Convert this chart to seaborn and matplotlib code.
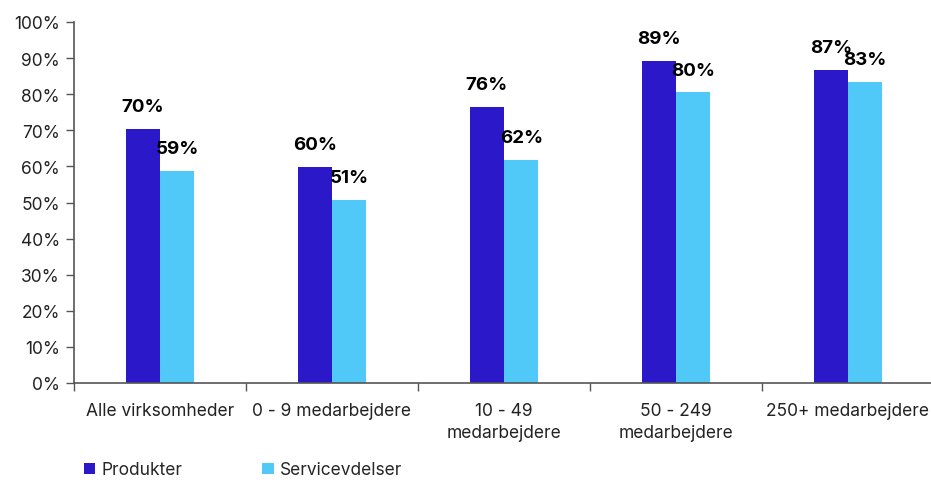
import matplotlib
matplotlib.use("Agg")
import matplotlib.pyplot as plt
from matplotlib.patches import Patch
from matplotlib.ticker import FixedLocator, FuncFormatter
import seaborn as sns
import pandas as pd

# Share of companies, by company size
categories = [
    "Alle virksomheder",
    "0 - 9 medarbejdere",
    "10 - 49\nmedarbejdere",
    "50 - 249\nmedarbejdere",
    "250+ medarbejdere",
]
produkter = [70.3, 59.9, 76.4, 89.2, 86.7]
servicevdelser = [58.7, 50.6, 61.8, 80.5, 83.4]
series_names = ["Produkter", "Servicevdelser"]
colors = ["#2A18C9", "#50C9F8"]

df = pd.DataFrame({
    "kategori": categories * 2,
    "serie": [series_names[0]] * len(categories) + [series_names[1]] * len(categories),
    "andel": produkter + servicevdelser,
})

sns.set_theme(style="white")
plt.rcParams["font.family"] = ["Inter", "DejaVu Sans"]

fig = plt.figure(figsize=(9.31, 4.81), dpi=100)
ax = fig.add_axes([74 / 931, 1 - 384 / 481, 860 / 931, 361 / 481])

sns.barplot(
    data=df, x="kategori", y="andel", hue="serie", order=categories,
    hue_order=series_names, palette=colors, width=0.4, linewidth=0,
    saturation=1, legend=False, ax=ax,
)

# value labels above each bar
for container in ax.containers:
    ax.bar_label(container, labels=[f"{v:.0f}%" for v in container.datavalues],
                 padding=10, fontsize=13.5, fontweight="bold", color="black")

ax.set_ylim(0, 100)
ax.set_xlim(-0.5, len(categories) - 0.5)
ax.set_yticks(range(0, 101, 10))
ax.yaxis.set_major_formatter(FuncFormatter(lambda v, _: f"{v:.0f}%"))
ax.tick_params(axis="y", which="major", length=6, width=1, color="#555555",
               labelsize=12.5, labelcolor="#222222", pad=4, left=True)

# category boundaries as ticks, names centred between them
ax.xaxis.set_major_locator(FixedLocator([i - 0.5 for i in range(len(categories) + 1)]))
ax.xaxis.set_major_formatter(FuncFormatter(lambda v, _: ""))
ax.xaxis.set_minor_locator(FixedLocator(list(range(len(categories)))))
ax.set_xticklabels(categories, minor=True)
ax.tick_params(axis="x", which="major", length=6, width=1, color="#555555", bottom=True)
ax.tick_params(axis="x", which="minor", length=0, labelsize=12.5, labelcolor="#222222", pad=14)
for lbl in ax.get_xticklabels(minor=True):
    lbl.set_linespacing(1.35)
    lbl.set_verticalalignment("top")

ax.set_xlabel("")
ax.set_ylabel("")
sns.despine(ax=ax, top=True, right=True)
for side in ("left", "bottom"):
    ax.spines[side].set_color("#555555")
    ax.spines[side].set_linewidth(1.2)

handles = [Patch(facecolor=c, edgecolor="none", label=n) for c, n in zip(colors, series_names)]
fig.legend(handles=handles, loc="center left", bbox_to_anchor=(84 / 931, 1 - 471 / 481),
           ncol=2, frameon=False, fontsize=12.5, handlelength=0.65, handleheight=0.65,
           handletextpad=0.35, columnspacing=4.6, borderaxespad=0, borderpad=0)

fig.savefig("out.png", dpi=100)
